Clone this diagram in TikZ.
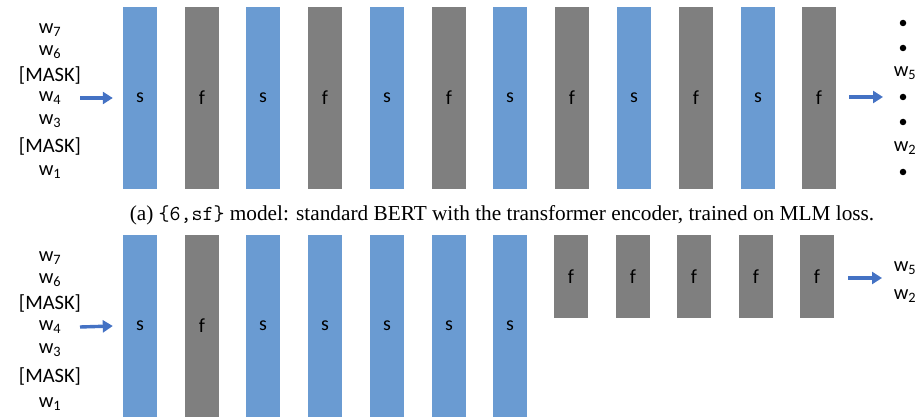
\documentclass[tikz,border=0pt]{standalone}
\usepackage{fontspec}
\setmainfont{Carlito}
\newfontfamily\capfont{Liberation Serif}
\usetikzlibrary{arrows.meta}
\definecolor{barblue}{HTML}{6A9BD2}
\definecolor{bargray}{HTML}{7F7F7F}
\definecolor{arrblue}{HTML}{4472C4}
\tikzset{
  sbar/.style={rectangle, fill=barblue, draw=none, minimum width=34pt, inner sep=0pt, font=\fontsize{20}{20}\selectfont},
  fbar/.style={rectangle, fill=bargray, draw=none, minimum width=34pt, inner sep=0pt, font=\fontsize{20}{20}\selectfont},
  word/.style={inner sep=0pt, font=\fontsize{20.5}{20.5}\selectfont},
  flow/.style={draw=arrblue, line width=3.4pt, -{Triangle[length=10pt,width=12pt]}},
  dotmark/.style={circle, fill=black, inner sep=0pt, minimum size=6.5pt},
}
\newcommand{\wsub}[1]{w\textsubscript{#1}}
\begin{document}
\begin{tikzpicture}[x=1pt,y=-1pt]
\useasboundingbox (0,0) rectangle (917,419);
% ---------- top row ----------
\foreach \i/\x in {1/140,3/263,5/387,7/510,9/634,11/758}{
  \node[sbar, minimum height=182pt] (ta\i) at (\x,98) {s};
}
\foreach \i/\x in {2/202,4/325,6/449,8/572,10/696,12/819}{
  \node[fbar, minimum height=182pt] (ta\i) at (\x,98) {f};
}
\node[word] (tw7) at (50,30) {\wsub{7}};
\node[word] (tw6) at (50,52) {\wsub{6}};
\node[word] (tm1) at (50,75) {[MASK]};
\node[word] (tw4) at (50,98) {\wsub{4}};
\node[word] (tw3) at (50,121) {\wsub{3}};
\node[word] (tm2) at (50,146) {[MASK]};
\node[word] (tw1) at (50,172) {\wsub{1}};
\coordinate (tin) at (80,98);
\draw[flow] (tin) -- ([xshift=-10pt]ta1.west);
\coordinate (tout) at (883,97);
\draw[flow] ([xshift=13pt]ta12.east|-tout) -- (tout);
\node[dotmark] (td1) at (903,23) {};
\node[dotmark] (td2) at (903,48) {};
\node[word] (tw5) at (905,73) {\wsub{5}};
\node[dotmark] (td3) at (903,97) {};
\node[dotmark] (td4) at (903,122) {};
\node[word] (tw2) at (905,148) {\wsub{2}};
\node[dotmark] (td5) at (903,172) {};
% caption
\node[inner sep=0pt, font=\fontsize{21.3}{21.3}\selectfont\capfont] (cap) at (502,215)
  {(a) {\ttfamily\{6,sf\}} model: standard BERT with the transformer encoder, trained on MLM loss.};
% ---------- bottom row ----------
\node[sbar, minimum height=182pt] (bb1) at (140,326) {s};
\node[fbar, minimum height=182pt] (bb2) at (202,326) {f};
\foreach \i/\x in {3/263,4/325,5/387,6/449,7/510}{
  \node[sbar, minimum height=182pt] (bb\i) at (\x,326) {s};
}
\foreach \i/\x in {8/571,9/633,10/694,11/756,12/817}{
  \node[fbar, minimum height=83pt] (bb\i) at (\x,276.5) {f};
}
\node[word] (bw7) at (50,258) {\wsub{7}};
\node[word] (bw6) at (50,280) {\wsub{6}};
\node[word] (bm1) at (50,303) {[MASK]};
\node[word] (bw4) at (50,327) {\wsub{4}};
\node[word] (bw3) at (50,350) {\wsub{3}};
\node[word] (bm2) at (50,376) {[MASK]};
\node[word] (bw1) at (50,404) {\wsub{1}};
\coordinate (bin) at (80,327);
\draw[flow] (bin) -- ([xshift=-10pt]bb1.west);
\coordinate (bout) at (882,278);
\draw[flow] ([xshift=14pt]bb12.east|-bout) -- (bout);
\node[word] (bw5) at (905,268) {\wsub{5}};
\node[word] (bw2) at (905,296) {\wsub{2}};
\end{tikzpicture}
\end{document}
